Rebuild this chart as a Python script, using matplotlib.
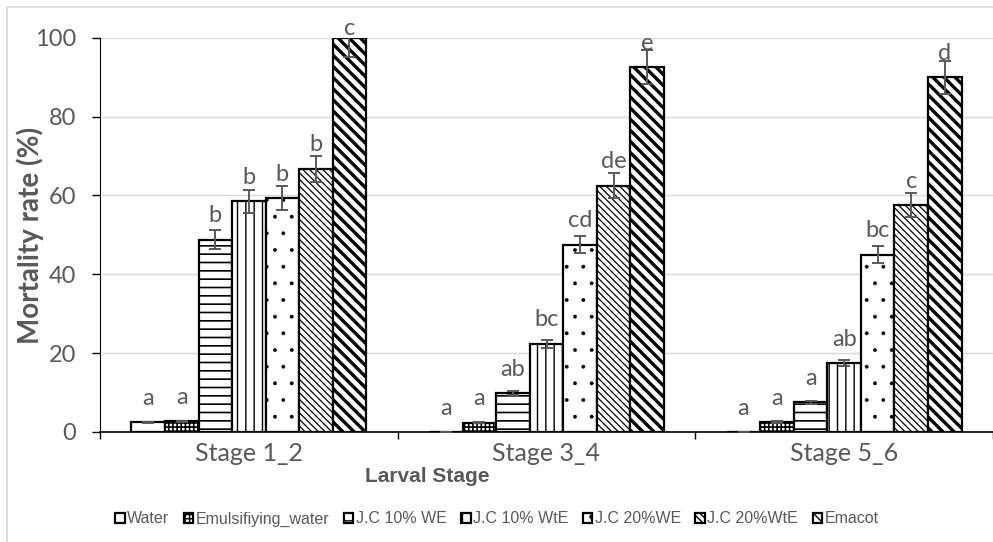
import numpy as np
import matplotlib
matplotlib.use('Agg')
import matplotlib.pyplot as plt
from matplotlib.patches import Rectangle

stages = ['Stage 1_2', 'Stage 3_4', 'Stage 5_6']
treatments = ['Water', 'Emulsifiying_water', 'J.C 10% WE', 'J.C 10% WtE',
              'J.C 20%WE', 'J.C 20%WtE', 'Emacot']

# mortality (%) per treatment, one value per stage
water = [2.5, 0, 0]
emulsifying = [2.7, 2.4, 2.5]
jc10_we = [48.8, 9.9, 7.5]
jc10_wte = [58.5, 22.4, 17.5]
jc20_we = [59.3, 47.5, 45.0]
jc20_wte = [66.8, 62.5, 57.5]
emacot = [100, 92.5, 90.0]

# standard errors
err_water = [0.1, 0, 0]
err_emulsifying = [0.2, 0.2, 0.2]
err_jc10_we = [2.5, 0.5, 0.3]
err_jc10_wte = [3.0, 1.0, 0.8]
err_jc20_we = [3.0, 2.2, 2.2]
err_jc20_wte = [3.3, 3.2, 3.0]
err_emacot = [5.0, 4.3, 4.2]

# significance letters
let_water = ['a', 'a', 'a']
let_emulsifying = ['a', 'a', 'a']
let_jc10_we = ['b', 'ab', 'a']
let_jc10_wte = ['b', 'bc', 'ab']
let_jc20_we = ['b', 'cd', 'bc']
let_jc20_wte = ['b', 'de', 'c']
let_emacot = ['c', 'e', 'd']

values = [water, emulsifying, jc10_we, jc10_wte, jc20_we, jc20_wte, emacot]
errors = [err_water, err_emulsifying, err_jc10_we, err_jc10_wte,
          err_jc20_we, err_jc20_wte, err_emacot]
letters = [let_water, let_emulsifying, let_jc10_we, let_jc10_wte,
           let_jc20_we, let_jc20_wte, let_emacot]

hatches = ['', '++++', '--', '||', '.', '\\\\\\\\\\', '\\\\\\']
hatch_lw = [1.0, 1.2, 1.2, 1.0, 0.3, 0.9, 2.4]

grey = '#595959'
font = 'Lato'

fig = plt.figure(figsize=(9.93, 5.42), dpi=100)
ax = fig.add_axes([100 / 993, 1 - 432 / 542, 893 / 993, (432 - 37.7) / 542])

x = np.arange(len(stages))
w = 0.1127
for i, name in enumerate(treatments):
    pos = x + (i - 3) * w
    with plt.rc_context({'hatch.linewidth': hatch_lw[i], 'hatch.color': 'black'}):
        bars = ax.bar(pos, values[i], w, color='white', edgecolor='black',
                      linewidth=1.6, hatch=hatches[i], label=name, zorder=3)
    for b in bars:
        if hasattr(b, 'set_hatch_linewidth'):
            b.set_hatch_linewidth(hatch_lw[i])
    ax.errorbar(pos, values[i], yerr=errors[i], fmt='none', ecolor=grey,
                elinewidth=1.4, capsize=4, capthick=1.4, zorder=4)
    for xp, v, t in zip(pos, values[i], letters[i]):
        ax.text(xp, min(v + 4.4, 100.8), t, ha='center', va='baseline',
                fontsize=17, color=grey, family=font, clip_on=False)

ax.set_ylim(0, 100)
ax.set_xlim(-0.5, 2.46)
ax.set_yticks(range(0, 101, 20))
ax.tick_params(axis='y', labelsize=17, labelcolor=grey, length=6, width=1,
               color='black', pad=11)
for lab in ax.get_yticklabels():
    lab.set_family(font)
ax.set_xticks(x)
ax.set_xticklabels(stages, fontsize=18, color=grey, family=font)
ax.tick_params(axis='x', which='major', length=0, pad=7)
ax.set_xticks([-0.5, 0.5, 1.5, 2.5], minor=True)
ax.tick_params(axis='x', which='minor', length=5, width=1, color='black')
ax.grid(axis='y', color='#d9d9d9', linewidth=1, zorder=0)
ax.spines['top'].set_visible(False)
ax.spines['right'].set_visible(False)
ax.spines['left'].set_color('black')
ax.spines['bottom'].set_color('black')
ax.spines['bottom'].set_linewidth(1.2)
ax.set_axisbelow(True)

fig.text(30 / 993, 1 - 235 / 542, 'Mortality rate (%)', rotation=90, ha='center',
         va='center', fontsize=20, fontweight='bold', color=grey, family=font)
fig.text(427 / 993, 1 - 476 / 542, 'Larval Stage', ha='center', va='center',
         fontsize=15, fontweight='bold', color=grey, family='Liberation Sans')

fig.legend(loc='center', bbox_to_anchor=(497 / 993, 1 - 519 / 542), ncol=7,
           frameon=False, handlelength=0.6, handleheight=0.6, handletextpad=0.15,
           columnspacing=0.9, prop={'family': 'Liberation Sans', 'size': 11.5},
           labelcolor=grey)

fig.patches.append(Rectangle((7 / 993, -0.1), 1.2, 1.1 - 7 / 542, transform=fig.transFigure,
                             fill=False, edgecolor='#d9d9d9', linewidth=1.2))

fig.savefig('out.png', dpi=100)
